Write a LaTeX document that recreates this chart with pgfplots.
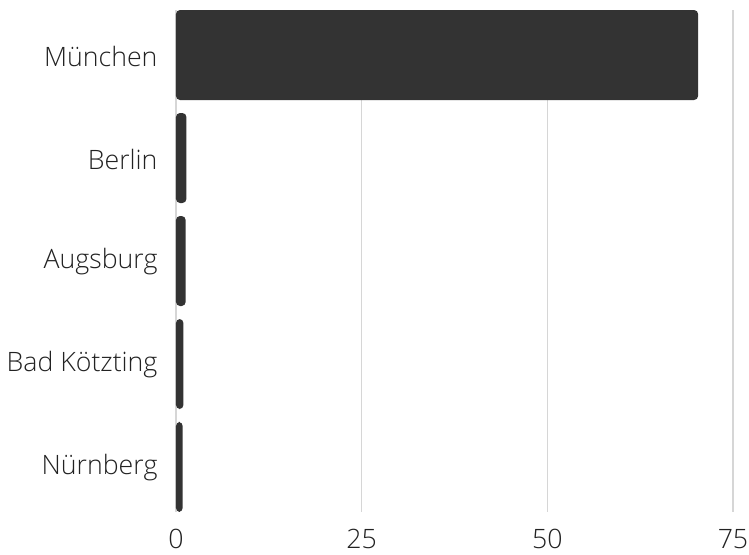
\documentclass[border=0pt]{standalone}
\usepackage{pgfplots}
\pgfplotsset{compat=1.18}
\usepackage{fontspec}
\setmainfont{Open Sans Light}
\definecolor{barcol}{HTML}{333333}
\definecolor{gridcol}{HTML}{D6D6D6}
\definecolor{txtcol}{HTML}{222222}
\begin{document}
\begin{tikzpicture}
\begin{axis}[
    scale only axis,
    width=557bp, height=502bp,
    xbar, bar width=90bp,
    xmin=0, xmax=75,
    ymin=-0.437, ymax=4.437,
    y dir=reverse,
    ytick={0,1,2,3,4},
    yticklabels={München, Berlin, Augsburg, Bad Kötzting, Nürnberg},
    xtick={0,25,50,75},
    xmajorgrids=true,
    grid style={gridcol, line width=1.2bp},
    axis line style={draw=none},
    major tick length=0pt,
    tick label style={font=\fontsize{26.8}{32}\selectfont, text=txtcol},
    yticklabel style={xshift=-15bp, yshift=-1bp},
    xticklabel style={yshift=-14bp},
    /pgf/number format/assume math mode=true,
]
\addplot[fill=barcol, draw=none, rounded corners=4bp] coordinates {
    (70.3,0) (1.4,1) (1.3,2) (1.0,3) (0.9,4)
};
\end{axis}
\pgfresetboundingbox
\path[use as bounding box] (-176bp,-43bp) rectangle (573bp,512bp);
\end{tikzpicture}
\end{document}
